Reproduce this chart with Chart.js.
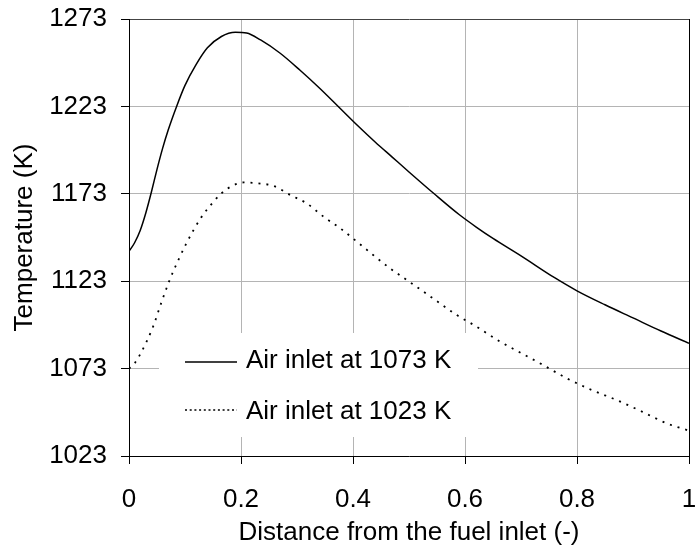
<!DOCTYPE html>
<html>
<head>
<meta charset="utf-8">
<script src="https://cdn.jsdelivr.net/npm/chart.js@4.4.0/dist/chart.umd.min.js"></script>
<style>
html,body{margin:0;padding:0;background:#fff;}
#c{display:block;}
</style>
</head>
<body>
<canvas id="c" width="697" height="556"></canvas>
<script>
// ---- data ----
const xTicks = [0, 0.2, 0.4, 0.6, 0.8, 1];
const xTickLabels = ["0", "0.2", "0.4", "0.6", "0.8", "1"];
const yTicks = [1023, 1073, 1123, 1173, 1223, 1273];
const yTickLabels = ["1023", "1073", "1123", "1173", "1223", "1273"];

const seriesNames = ["Air inlet at 1073 K", "Air inlet at 1023 K"];

const x1073 = [0, 0.01, 0.02, 0.03, 0.04, 0.05, 0.06, 0.07, 0.085, 0.10, 0.12, 0.14, 0.165, 0.19, 0.21, 0.235, 0.27, 0.305, 0.34, 0.375, 0.41, 0.44, 0.47, 0.50, 0.545, 0.59, 0.62, 0.65, 0.70, 0.76, 0.80, 0.85, 0.90, 0.95, 1.0];
const y1073 = [1140, 1145, 1152, 1162, 1174, 1187, 1199, 1209.5, 1223, 1235, 1247, 1256.5, 1263, 1265.4, 1265, 1261, 1253.4, 1243.8, 1233.5, 1222.5, 1211.5, 1202.5, 1194, 1185.5, 1173, 1161, 1154, 1147.5, 1137.5, 1125, 1117.5, 1109.5, 1102, 1094.5, 1087.5];

const x1023 = [0, 0.01, 0.023, 0.043, 0.058, 0.073, 0.088, 0.103, 0.127, 0.151, 0.166, 0.183, 0.205, 0.23, 0.258, 0.288, 0.317, 0.347, 0.377, 0.407, 0.436, 0.466, 0.496, 0.526, 0.555, 0.585, 0.618, 0.663, 0.692, 0.737, 0.782, 0.826, 0.871, 0.916, 0.96, 1.0];
const y1023 = [1073, 1076, 1083, 1097, 1111, 1124, 1135, 1145, 1158.5, 1168.5, 1173.5, 1177.3, 1179.5, 1179, 1177.5, 1172.3, 1167.6, 1160, 1153.3, 1145.6, 1138, 1130.4, 1123.7, 1117, 1110.4, 1103.7, 1097.5, 1088.4, 1083.3, 1075.5, 1067.4, 1060.8, 1055, 1048.4, 1041.7, 1037.5];

const FONT = "'Liberation Sans', Arial, Helvetica, sans-serif";
const FS = 26;

function pts(xs, ys){ return xs.map((x,i)=>({x:x, y:ys[i]})); }

const legendPlugin = {
  id: 'boxLegend',
  beforeDatasetsDraw(chart){
    const ctx = chart.ctx;
    ctx.save();
    ctx.fillStyle = '#fff';
    ctx.fillRect(159, 333, 319, 104);
    ctx.restore();
  },
  afterDatasetsDraw(chart){
    const ctx = chart.ctx;
    ctx.save();
    ctx.strokeStyle = '#000';
    ctx.lineWidth = 1.5;
    ctx.beginPath();
    ctx.moveTo(185, 362); ctx.lineTo(237, 362);
    ctx.stroke();
    ctx.setLineDash([2, 2.7]);
    ctx.beginPath();
    ctx.moveTo(185, 410); ctx.lineTo(237, 410);
    ctx.stroke();
    ctx.setLineDash([]);
    ctx.fillStyle = '#000';
    ctx.font = FS + "px " + FONT;
    ctx.textBaseline = 'alphabetic';
    ctx.textAlign = 'left';
    ctx.fillText(seriesNames[0], 246, 368);
    ctx.fillText(seriesNames[1], 246, 419);
    ctx.restore();
  }
};

new Chart(document.getElementById('c'), {
  type: 'line',
  data: {
    datasets: [
      {
        label: seriesNames[0],
        data: pts(x1073, y1073),
        borderColor: '#000',
        borderWidth: 1.5,
        pointRadius: 0,
        cubicInterpolationMode: 'monotone',
        fill: false
      },
      {
        label: seriesNames[1],
        data: pts(x1023, y1023),
        borderColor: '#000',
        borderWidth: 1.8,
        borderDash: [2, 6],
        pointRadius: 0,
        cubicInterpolationMode: 'monotone',
        fill: false
      }
    ]
  },
  options: {
    responsive: false,
    animation: false,
    devicePixelRatio: 1,
    layout: { padding: { left: 0, right: 8, top: 19, bottom: 0 } },
    plugins: {
      legend: { display: false },
      tooltip: { enabled: false }
    },
    scales: {
      x: {
        type: 'linear',
        min: 0, max: 1,
        afterBuildTicks(s){ s.ticks = xTicks.map(v=>({value:v})); },
        afterFit(s){ s.height = 100; s.paddingLeft = 0; s.paddingRight = 0; },
        ticks: {
          color: '#000',
          font: { family: FONT, size: FS },
          padding: 20,
          maxRotation: 0,
          autoSkip: false,
          callback(v){ const i = xTicks.indexOf(v); return i >= 0 ? xTickLabels[i] : ''; }
        },
        grid: {
          color(ctx){ return ctx.tick && ctx.tick.value === 1 ? '#000' : '#b4b4b4'; },
          lineWidth: 1,
          tickLength: 8,
          tickColor: '#000'
        },
        border: { color: '#000', width: 1 },
        title: {
          display: true,
          text: 'Distance from the fuel inlet (-)',
          color: '#000',
          font: { family: FONT, size: FS },
          padding: { top: 0, bottom: 8 }
        }
      },
      y: {
        type: 'linear',
        min: 1023, max: 1273,
        afterBuildTicks(s){ s.ticks = yTicks.map(v=>({value:v})); },
        afterFit(s){ s.width = 129; s.paddingTop = 0; s.paddingBottom = 0; },
        ticks: {
          color: '#000',
          font: { family: FONT, size: FS },
          padding: 14,
          autoSkip: false,
          callback(v){ const i = yTicks.indexOf(v); return i >= 0 ? yTickLabels[i] : ''; }
        },
        grid: {
          color(ctx){ return ctx.tick && ctx.tick.value === 1273 ? '#444' : '#b4b4b4'; },
          lineWidth: 1,
          tickLength: 8,
          tickColor: '#000'
        },
        border: { color: '#000', width: 1 },
        title: {
          display: true,
          text: 'Temperature (K)',
          color: '#000',
          font: { family: FONT, size: FS },
          padding: { top: 9, bottom: 0 }
        }
      }
    }
  },
  plugins: [legendPlugin]
});
</script>
</body>
</html>
